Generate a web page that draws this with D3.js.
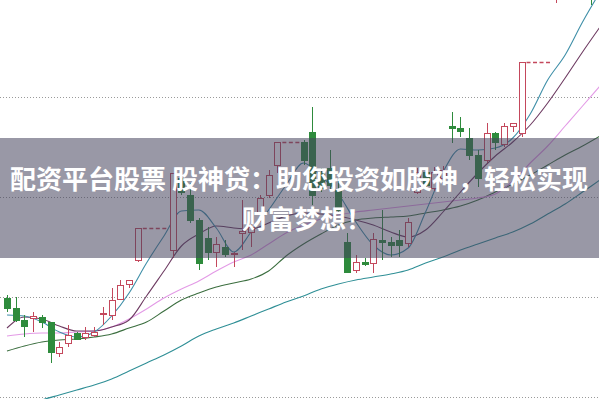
<!DOCTYPE html>
<html lang="zh">
<head>
<meta charset="utf-8">
<title>K线图</title>
<script src="https://cdn.jsdelivr.net/npm/d3@7"></script>
<style>
  body { margin: 0; background: #fff; }
  svg { display: block; }
</style>
</head>
<body>
<script>
// daily candles, null = suspended day
var opens  = [11.00,10.90,10.78,10.80,10.81,10.76,10.45,10.55,10.65,10.61,10.63,10.84,10.83,10.99,11.14,11.38,null,null,null,11.48,
              12.20,12.03,11.78,11.60,11.46,11.51,11.44,11.65,11.66,11.86,12.03,12.33,null,null,12.56,12.66,12.26,12.30,12.08,11.56,
              11.28,11.36,11.35,11.58,11.56,11.58,11.55,12.06,12.26,12.10,12.20,12.72,12.70,12.60,12.43,12.38,12.65,12.54,12.72,12.65,
              null,null,null,14.06,14.38,14.83,14.58,14.58];
var highs  = [11.03,11.01,10.83,10.86,10.83,10.76,10.56,10.73,10.66,10.71,10.71,10.91,11.10,11.18,11.18,11.70,null,null,null,12.25,
              12.28,12.15,11.80,11.71,11.61,11.58,11.46,11.98,11.78,12.03,12.28,12.56,null,null,12.58,12.91,12.30,12.48,12.20,11.65,
              11.43,11.40,11.65,11.88,11.61,11.68,11.80,12.30,12.30,12.31,12.32,12.86,12.81,12.70,12.48,12.75,12.66,12.75,12.75,13.36,
              null,null,null,14.43,14.88,15.03,14.88,14.73];
var lows   = [10.86,10.76,10.61,10.66,10.70,10.35,10.41,10.51,10.58,10.58,10.61,10.73,10.78,10.98,11.10,11.36,null,null,null,11.40,
              12.03,11.75,11.28,11.38,11.31,11.41,11.31,11.48,11.51,11.76,12.00,12.25,null,null,12.33,11.93,12.06,12.08,11.86,11.25,
              11.25,11.32,11.25,11.38,11.41,11.41,11.51,12.04,12.08,12.07,12.16,12.55,12.61,12.38,12.11,12.35,12.48,12.51,12.66,12.61,
              null,null,null,13.95,14.33,14.48,14.48,13.93];
var closes = [10.90,10.78,10.72,10.82,10.76,10.46,10.51,10.63,10.59,10.65,10.66,10.85,10.98,11.13,11.18,11.70,null,null,null,12.25,
              12.06,11.78,11.35,11.46,11.54,11.44,11.45,11.67,11.71,12.00,12.23,12.56,null,null,12.38,12.03,12.10,12.13,11.88,11.26,
              11.36,11.34,11.59,11.56,11.53,11.53,11.76,12.26,12.13,12.26,12.28,12.70,12.67,12.43,12.20,12.65,12.56,12.72,12.75,13.36,
              null,null,null,14.38,14.78,14.58,14.78,14.08];

// moving averages, read every second day (day 0, 2, 4 ... 68)
var ma5  = [10.83,10.82,10.76,10.66,10.61,10.66,10.82,11.05,11.35,11.62,11.87,11.88,11.70,11.46,11.66,11.88,12.13,12.35,
            12.22,12.04,11.76,11.53,11.43,11.50,11.86,12.26,12.49,12.48,12.50,12.60,12.84,13.18,13.43,13.76,14.06];
var ma10 = [10.70,10.81,10.79,10.72,10.67,10.67,10.71,10.78,11.02,11.27,11.52,11.64,11.72,11.70,11.69,11.75,11.82,11.85,
            11.84,11.82,11.78,11.73,11.66,11.61,11.68,11.86,12.06,12.25,12.42,12.56,12.73,12.95,13.20,13.46,13.71];
var ma20 = [10.62,10.64,10.65,10.65,10.66,10.67,10.71,10.79,10.89,11.00,11.09,11.17,11.27,11.36,11.43,11.54,11.65,11.73,
            11.79,11.83,11.86,11.88,11.90,11.92,11.94,11.96,11.98,12.00,12.04,12.17,12.35,12.52,12.72,12.92,13.12];
var ma30 = [10.47,10.52,10.56,10.58,10.59,10.61,10.64,10.70,10.76,10.87,10.98,11.05,11.11,11.15,11.19,11.27,11.42,11.54,
            11.64,11.73,11.78,11.80,11.81,11.82,11.85,11.88,11.92,11.98,12.06,12.14,12.23,12.33,12.43,12.52,12.62];
var ma60 = [9.87,9.92,9.98,10.03,10.08,10.13,10.19,10.27,10.35,10.43,10.52,10.62,10.69,10.75,10.82,10.89,10.96,11.02,
            11.09,11.14,11.18,11.21,11.24,11.28,11.35,11.41,11.48,11.54,11.60,11.66,11.74,11.84,11.94,12.06,12.18];

var gridValues = [10, 11, 12, 13];
var titleLines = ["配资平台股票 股神贷：助您投资如股神，轻松实现", "财富梦想！"];

var w = 599, h = 399;
var upColor = "#c4485c", downColor = "#2e8b3c";

var svg = d3.select("body").append("svg")
    .attr("width", w)
    .attr("height", h);

var xScale = d3.scaleLinear().domain([0, 68]).range([7, 600]);
var yScale = d3.scaleLinear().domain([10, 13]).range([398, 98]);

// dotted grid
svg.selectAll("line.grid")
   .data(gridValues)
   .enter()
   .append("line")
   .attr("class", "grid")
   .attr("x1", 0)
   .attr("x2", w)
   .attr("y1", function(d) { return Math.round(yScale(d)) - 0.5; })
   .attr("y2", function(d) { return Math.round(yScale(d)) - 0.5; })
   .attr("stroke", "#9a9a9a")
   .attr("stroke-dasharray", "1,2");

// moving average lines
var maDays = d3.range(0, 69, 2);
var lines = [
  { values: ma60, color: "#2f8f96" },
  { values: ma30, color: "#3b6e3f" },
  { values: ma20, color: "#e39ae6" },
  { values: ma10, color: "#6e3b62" },
  { values: ma5,  color: "#3f8fa8" }
];
var lineGen = d3.line()
    .x(function(d, i) { return xScale(maDays[i]); })
    .y(function(d) { return yScale(d); })
    .curve(d3.curveMonotoneX);

svg.selectAll("path.ma")
   .data(lines)
   .enter()
   .append("path")
   .attr("class", "ma")
   .attr("d", function(d) { return lineGen(d.values); })
   .attr("fill", "none")
   .attr("stroke", function(d) { return d.color; })
   .attr("stroke-width", 1.1);

// candles
var candles = closes.map(function(c, i) {
  return { i: i, o: opens[i], h: highs[i], l: lows[i], c: c };
}).filter(function(d) { return d.c !== null; });

function cx(d) { return Math.round(xScale(d.i)); }
function col(d) { return d.c >= d.o ? upColor : downColor; }

var g = svg.append("g");

g.selectAll("line.wick")
 .data(candles)
 .enter()
 .append("line")
 .attr("x1", function(d) { return cx(d) + 0.5; })
 .attr("x2", function(d) { return cx(d) + 0.5; })
 .attr("y1", function(d) { return yScale(d.h); })
 .attr("y2", function(d) { return yScale(d.l); })
 .attr("stroke", col);

g.selectAll("rect.body")
 .data(candles)
 .enter()
 .append("rect")
 .attr("x", function(d) { return cx(d) - 2.5; })
 .attr("width", 6)
 .attr("y", function(d) { return Math.round(yScale(Math.max(d.o, d.c))) + 0.5; })
 .attr("height", function(d) {
    return Math.max(1, Math.round(Math.abs(yScale(d.o) - yScale(d.c))));
 })
 .attr("fill", function(d) { return d.c >= d.o ? "#fff" : downColor; })
 .attr("stroke", col);

// suspended days: dashed line at last close
var gaps = [];
closes.forEach(function(c, i) {
  if (c === null && closes[i - 1] !== null) {
    var j = i;
    while (j < closes.length && closes[j] === null) j++;
    gaps.push({ from: i - 1, to: j, v: closes[i - 1] });
  }
});
g.selectAll("line.gap")
 .data(gaps)
 .enter()
 .append("line")
 .attr("x1", function(d) { return xScale(d.from) + 5; })
 .attr("x2", function(d) { return xScale(d.to) - 4; })
 .attr("y1", function(d) { return Math.round(yScale(d.v)) + 0.5; })
 .attr("y2", function(d) { return Math.round(yScale(d.v)) + 0.5; })
 .attr("stroke", upColor)
 .attr("stroke-width", 1.3)
 .attr("stroke-dasharray", "4,2.5");

// title banner over the chart
svg.append("rect")
   .attr("x", 0)
   .attr("y", 138)
   .attr("width", w)
   .attr("height", 120)
   .attr("fill", "rgba(70, 68, 92, 0.55)");

svg.selectAll("text.title")
   .data(titleLines)
   .enter()
   .append("text")
   .attr("x", function(d, i) { return i === 0 ? 10 : 242; })
   .attr("y", function(d, i) { return i === 0 ? 189 : 229; })
   .attr("font-family", "'Noto Sans CJK SC', sans-serif")
   .attr("font-size", "26px")
   .attr("font-weight", "bold")
   .attr("fill", "#fff")
   .text(function(d) { return d; });
</script>
</body>
</html>
